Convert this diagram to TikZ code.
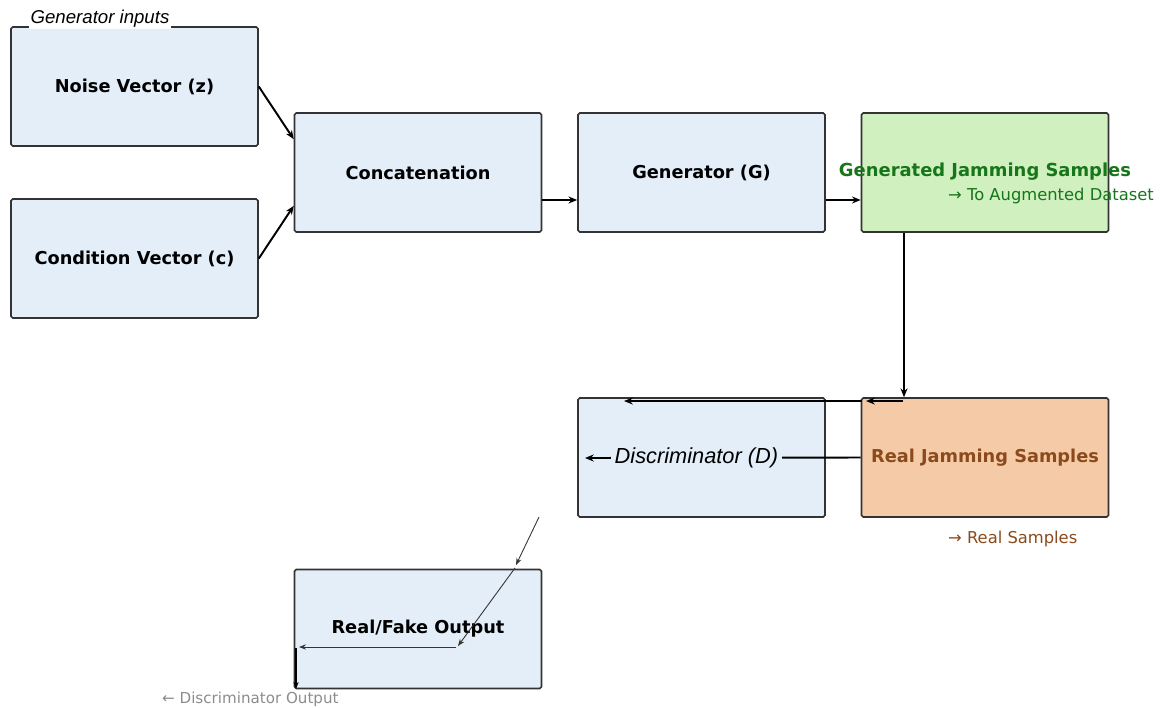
\documentclass[tikz,border=0pt]{standalone}
\usepackage{fontspec}
\setmainfont{DejaVu Sans}
\newfontfamily\arialfont{Liberation Sans}
\usetikzlibrary{arrows.meta}
\definecolor{boxblue}{HTML}{E3EEF9}
\definecolor{boxgreen}{HTML}{D0F0C0}
\definecolor{boxorange}{HTML}{F5CBA7}
\definecolor{txtgreen}{HTML}{17751A}
\definecolor{txtbrown}{HTML}{8B4A1C}
\definecolor{edge}{HTML}{333333}
\tikzset{
  block/.style={draw=edge,line width=0.9pt,rounded corners=1pt,fill=boxblue,minimum width=4.94cm,minimum height=2.38cm,inner sep=0pt,font=\bfseries\fontsize{10.1}{12}\selectfont},
  arr/.style={-{Stealth[length=5pt,width=4pt]},line width=1.1pt},
  thinarr/.style={-{Stealth[length=4pt,width=3pt]},line width=0.5pt,black!80},
}
\begin{document}
\begin{tikzpicture}[x=0.02cm,y=-0.02cm]
\useasboundingbox (0,0) rectangle (1162,707);
\node[block] (noise) at (134.5,86.5) {Noise Vector (z)};
\node[block] (cond) at (134.5,258.5) {Condition Vector (c)};
\node[block] (concat) at (418,172.5) {Concatenation};
\node[block] (gen) at (701.5,172.5) {Generator (G)};
\node[block,fill=boxgreen] (genj) at (985,172.5) {};
\node[block] (disc) at (701.5,457.5) {};
\node[block,fill=boxorange] (real) at (985,457.5) {};
\node[block] (out) at (418,629) {Real/Fake Output};
\node[fill=white,inner sep=1pt,font=\arialfont\itshape\fontsize{10.6}{12}\selectfont] (ginp) at (100,19) {Generator inputs};
\node[font=\bfseries\fontsize{10.2}{12}\selectfont,text=txtgreen] (genjlab) at (985,172) {Generated Jamming Samples};
\node[font=\fontsize{9.3}{11}\selectfont,text=txtgreen,anchor=west] (augm) at (942,196) {→ To Augmented Dataset};
\node[font=\bfseries\fontsize{10.1}{12}\selectfont,text=txtbrown] (reallab) at (985,458) {Real Jamming Samples};
\node[font=\fontsize{9.3}{11}\selectfont,text=txtbrown,anchor=west] (realsm) at (942,539) {→ Real Samples};
\node[font=\fontsize{8.6}{10}\selectfont,text=black!45,anchor=west] (dout) at (156,699) {← Discriminator Output};
% generator path
\draw[arr] (noise.east) -- (concat.165);
\draw[arr] (cond.east) -- (concat.195);
\draw[arr] ([yshift=-0.55cm]concat.east) -- ([yshift=-0.55cm]gen.west);
\draw[arr] ([yshift=-0.55cm]gen.east) -- ([yshift=-0.55cm]genj.west);
\draw[arr] ([xshift=-1.62cm]genj.south) -- ([xshift=-1.62cm]real.north);
% discriminator path
\coordinate (t1) at (903,401); \coordinate (t2) at (866,401);
\coordinate (t3) at (862,401); \coordinate (t4) at (825,401); \coordinate (t5) at (624,401);
\draw[arr] (t1) -- (t2);
\draw[line width=0.7pt] (t3) -- (t4);
\draw[arr,line width=1.6pt] (t4) -- (t5);
\coordinate (dtip) at (585,458);
\draw[arr] (real.west) -- (dtip) node[pos=0.596,fill=boxblue,inner sep=2pt,font=\arialfont\itshape\fontsize{12.4}{14}\selectfont] (dlab) {Discriminator (D)};
% output path
\coordinate (o1) at (539,517); \coordinate (o2) at (516,565);
\coordinate (o3) at (515,568); \coordinate (o4) at (458,646);
\coordinate (o5) at (456,647); \coordinate (o6) at (299,647);
\coordinate (o7) at (296,648); \coordinate (o8) at (296,689);
\draw[thinarr] (o1) -- (o2);
\draw[thinarr] (o3) -- (o4);
\draw[thinarr] (o5) -- (o6);
\draw[-{Stealth[length=4pt,width=3pt]},line width=1.4pt] (o7) -- (o8);
\end{tikzpicture}
\end{document}
